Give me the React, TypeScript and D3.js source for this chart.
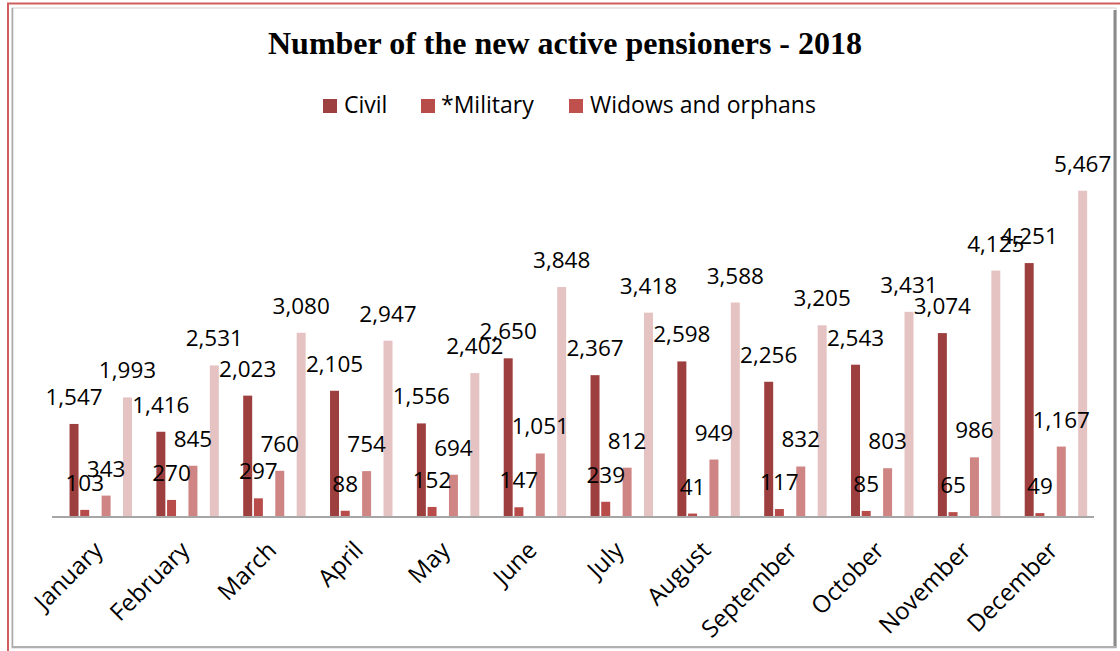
import * as d3 from "d3";

const months = [
  "January", "February", "March", "April", "May", "June",
  "July", "August", "September", "October", "November", "December",
];
const civil = [1547, 1416, 2023, 2105, 1556, 2650, 2367, 2598, 2256, 2543, 3074, 4251];
const military = [103, 270, 297, 88, 152, 147, 239, 41, 117, 85, 65, 49];
const widows = [343, 845, 760, 754, 694, 1051, 812, 949, 832, 803, 986, 1167];
const total = [1993, 2531, 3080, 2947, 2402, 3848, 3418, 3588, 3205, 3431, 4125, 5467];

// excel left empty slots between some of the series
const slots = ["gap0", "civil", "military", "gap1", "widows", "gap2", "total"];

const series = [
  { key: "civil", name: "Civil", values: civil, fill: "#9e3f3f", legend: "#9e4040" },
  { key: "military", name: "*Military", values: military, fill: "#b84c4a", legend: "#b84c4a" },
  { key: "widows", name: "Widows and orphans", values: widows, fill: "#cf8584", legend: "#c0504d" },
  { key: "total", name: "", values: total, fill: "#e6c3c3", legend: null },
];

const W = 1120;
const H = 651;
const margin = { top: 159, right: 26, bottom: 135, left: 52 };
const font = "'Open Sans', sans-serif";

export default function App() {
  const x0 = d3.scaleBand<string>()
    .domain(months)
    .range([margin.left, W - margin.right]);
  const x1 = d3.scaleBand<string>()
    .domain(slots)
    .range([0, x0.bandwidth()])
    .paddingInner(0.16)
    .paddingOuter(0.64);
  const y = d3.scaleLinear()
    .domain([0, 6000])
    .range([H - margin.bottom, margin.top]);
  const fmt = d3.format(",");
  const base = y(0);

  const legendItems = [
    { s: series[0], x: 323, tx: 344 },
    { s: series[1], x: 421, tx: 441 },
    { s: series[2], x: 569, tx: 590 },
  ];

  return (
    <svg width={W} height={H} style={{ position: "absolute", left: 0, top: 0, background: "#fff" }}>
      {/* page borders */}
      <line x1={7} x2={W} y1={3.5} y2={3.5} stroke="#cf5f5f" strokeWidth={2} />
      <line x1={8} x2={8} y1={3} y2={H} stroke="#cf5f5f" strokeWidth={2} />
      <rect x={12} y={8} width={1104} height={640} fill="none" stroke="#d4d4d4" strokeWidth={1} />
      <line x1={12.5} x2={12.5} y1={8} y2={648} stroke="#a8a8a8" strokeWidth={1.5} />
      <line x1={1115} x2={1115} y1={10} y2={648} stroke="#8a8a8a" strokeWidth={3} />
      <line x1={12} x2={1116} y1={647} y2={647} stroke="#b0b0b0" strokeWidth={2} />

      <text
        x={565}
        y={54}
        textAnchor="middle"
        fontFamily="'Liberation Serif', 'Times New Roman', serif"
        fontWeight="bold"
        fontSize={32}
        fill="#000"
      >
        Number of the new active pensioners - 2018
      </text>

      {legendItems.map(({ s, x, tx }) => (
        <g key={s.key}>
          <rect x={x} y={99} width={14} height={14} fill={s.legend ?? undefined} />
          <text x={tx} y={113} fontFamily={font} fontSize={23} fill="#000">
            {s.name}
          </text>
        </g>
      ))}

      {series.map((s) => (
        <g key={s.key}>
          {s.values.map((v, i) => {
            const bx = (x0(months[i]) ?? 0) + (x1(s.key) ?? 0);
            return (
              <rect key={i} x={bx} y={y(v)} width={x1.bandwidth()} height={base - y(v)} fill={s.fill} />
            );
          })}
        </g>
      ))}

      <line
        x1={margin.left}
        x2={W - margin.right}
        y1={base + 1}
        y2={base + 1}
        stroke="#a6a6a6"
        strokeWidth={2}
      />

      {series.map((s) => (
        <g key={s.key + "-lbl"}>
          {s.values.map((v, i) => {
            const cx = (x0(months[i]) ?? 0) + (x1(s.key) ?? 0) + x1.bandwidth() / 2;
            return (
              <text key={i} x={cx} y={y(v) - 19} textAnchor="middle" fontFamily={font} fontSize={22.5} fill="#000">
                {fmt(v)}
              </text>
            );
          })}
        </g>
      ))}

      {months.map((m) => {
        const cx = (x0(m) ?? 0) + x0.bandwidth() / 2;
        return (
          <text
            key={m}
            transform={`translate(${cx - 4},${539}) rotate(-45)`}
            dy="0.75em"
            textAnchor="end"
            fontFamily={font}
            fontSize={24}
            fill="#000"
          >
            {m}
          </text>
        );
      })}
    </svg>
  );
}
